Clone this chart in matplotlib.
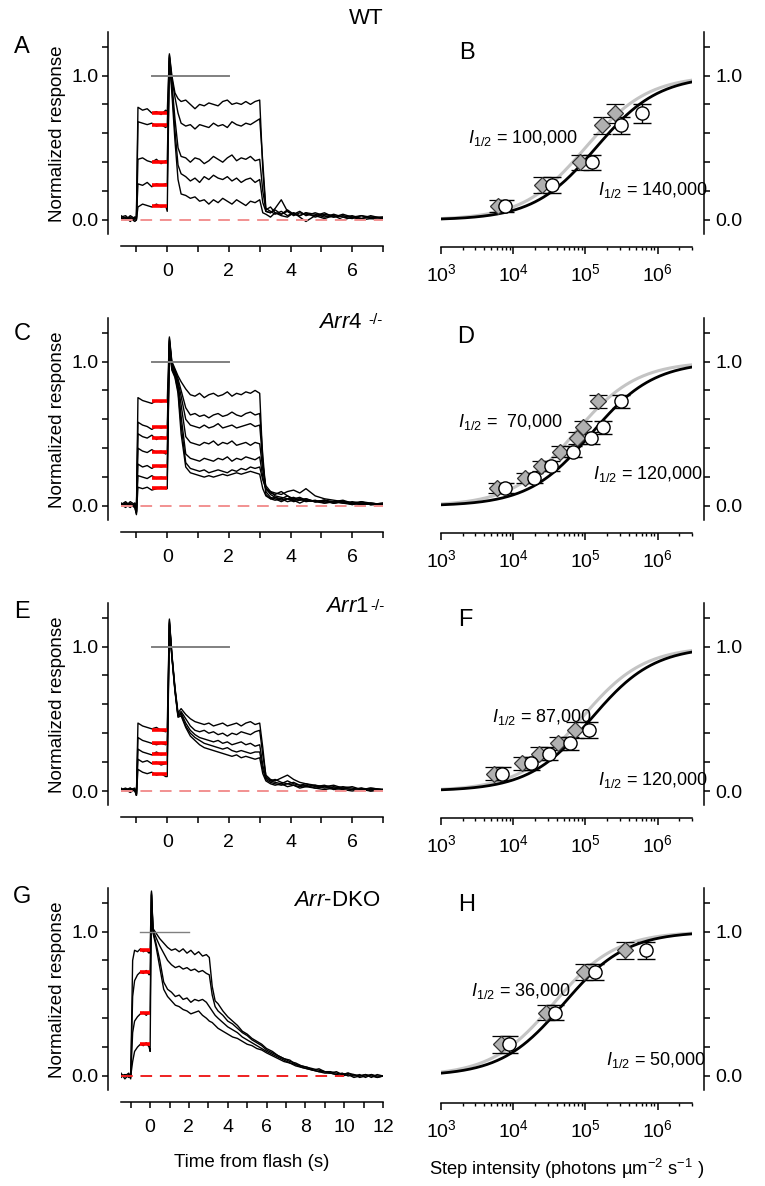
import numpy as np
import matplotlib
matplotlib.use("Agg")
import matplotlib.pyplot as plt
from matplotlib.ticker import FixedLocator, FixedFormatter, LogLocator, NullFormatter

plt.rcParams['font.family'] = ['Liberation Sans', 'DejaVu Sans']
plt.rcParams['mathtext.fontset'] = 'custom'
plt.rcParams['mathtext.rm'] = 'Liberation Sans'
plt.rcParams['mathtext.it'] = 'Liberation Sans:italic'
plt.rcParams['mathtext.bf'] = 'Liberation Sans:bold'

# ---------------- step/flash traces (normalized response vs time, s) ----------------
# shared time grid for the WT, Arr4-/- and Arr1-/- panels
t_step = [-1.5, -1.35, -1.2, -1.05, -1.0, -0.95, -0.8, -0.65, -0.5, -0.35, -0.2, -0.05,
          0.0, 0.07, 0.15, 0.25, 0.35, 0.45, 0.6, 0.75, 0.9, 1.05, 1.2, 1.35, 1.5, 1.65,
          1.8, 1.95, 2.1, 2.25, 2.4, 2.55, 2.7, 2.85, 3.0, 3.1, 3.2, 3.35, 3.5, 3.7, 3.9,
          4.1, 4.3, 4.5, 4.8, 5.1, 5.4, 5.7, 6.0, 6.3, 6.6, 7.0]

wt_traces = [
    [0.02, 0.03, 0.0, 0.02, 0.02, 0.78, 0.76, 0.77, 0.74, 0.75, 0.73, 0.76, 0.74, 1.15, 1.0,
     0.88, 0.84, 0.82, 0.83, 0.80, 0.77, 0.80, 0.79, 0.81, 0.80, 0.79, 0.82, 0.83, 0.80, 0.81,
     0.80, 0.82, 0.80, 0.82, 0.83, 0.35, 0.06, 0.05, 0.07, 0.04, 0.06, 0.03, 0.05, 0.04, 0.03,
     0.05, 0.02, 0.03, 0.02, 0.03, 0.01, 0.02],
    [0.01, 0.0, 0.03, 0.01, 0.01, 0.68, 0.67, 0.66, 0.67, 0.65, 0.66, 0.64, 0.65, 1.14, 0.98,
     0.85, 0.74, 0.67, 0.65, 0.66, 0.63, 0.66, 0.65, 0.64, 0.67, 0.65, 0.66, 0.64, 0.68, 0.66,
     0.65, 0.67, 0.66, 0.68, 0.70, 0.40, 0.08, 0.06, 0.04, 0.06, 0.03, 0.05, 0.03, 0.05, 0.02,
     0.04, 0.03, 0.02, 0.03, 0.01, 0.02, 0.01],
    [0.03, 0.01, 0.02, 0.0, 0.0, 0.42, 0.43, 0.41, 0.40, 0.42, 0.39, 0.41, 0.40, 1.13, 0.95,
     0.70, 0.50, 0.44, 0.43, 0.40, 0.43, 0.42, 0.39, 0.41, 0.44, 0.42, 0.40, 0.43, 0.45, 0.41,
     0.43, 0.42, 0.44, 0.41, 0.42, 0.20, 0.07, 0.09, 0.05, 0.04, 0.07, 0.04, 0.03, 0.05, 0.04,
     0.02, 0.04, 0.02, 0.01, 0.03, 0.02, 0.02],
    [0.0, 0.02, -0.01, 0.02, 0.01, 0.25, 0.24, 0.26, 0.23, 0.25, 0.24, 0.25, 0.24, 1.12, 0.92,
     0.62, 0.38, 0.32, 0.30, 0.27, 0.29, 0.26, 0.30, 0.28, 0.31, 0.29, 0.28, 0.30, 0.27, 0.29,
     0.26, 0.28, 0.29, 0.26, 0.28, 0.12, 0.06, 0.05, 0.08, 0.14, 0.06, 0.04, 0.06, 0.03, 0.05,
     0.03, 0.02, 0.04, 0.02, 0.01, 0.03, 0.01],
    [0.02, 0.0, 0.01, -0.01, 0.0, 0.09, 0.11, 0.10, 0.09, 0.11, 0.09, 0.10, 0.06, 1.10, 0.88,
     0.55, 0.28, 0.18, 0.17, 0.15, 0.16, 0.13, 0.14, 0.11, 0.14, 0.12, 0.15, 0.13, 0.11, 0.14,
     0.12, 0.10, 0.13, 0.12, 0.14, 0.05, 0.04, 0.02, 0.05, 0.03, 0.02, 0.05, 0.02, -0.01, 0.03,
     0.01, 0.03, 0.0, 0.02, 0.0, 0.01, 0.0],
]
wt_levels = [0.738, 0.655, 0.398, 0.245, 0.095]

arr4_traces = [
    [0.01, 0.03, 0.0, 0.02, -0.04, 0.75, 0.73, 0.72, 0.71, 0.73, 0.72, 0.73, 0.72, 1.17, 1.00,
     0.95, 0.90, 0.86, 0.81, 0.77, 0.76, 0.78, 0.75, 0.77, 0.78, 0.76, 0.77, 0.79, 0.76, 0.78,
     0.77, 0.79, 0.78, 0.80, 0.78, 0.30, 0.08, 0.05, 0.04, 0.05, 0.03, 0.04, 0.05, 0.03, 0.04,
     0.02, 0.03, 0.04, 0.02, 0.01, 0.02, 0.01],
    [0.0, 0.02, 0.01, -0.01, -0.05, 0.58, 0.56, 0.55, 0.53, 0.55, 0.54, 0.55, 0.54, 1.16, 0.99,
     0.94, 0.88, 0.80, 0.68, 0.63, 0.64, 0.62, 0.63, 0.61, 0.63, 0.64, 0.62, 0.63, 0.65, 0.63,
     0.62, 0.64, 0.65, 0.63, 0.64, 0.35, 0.10, 0.06, 0.05, 0.03, 0.05, 0.04, 0.02, 0.04, 0.03,
     0.03, 0.02, 0.03, 0.01, 0.03, 0.02, 0.01],
    [0.02, 0.0, 0.03, 0.01, -0.03, 0.50, 0.48, 0.47, 0.49, 0.46, 0.48, 0.47, 0.47, 1.15, 0.98,
     0.93, 0.86, 0.76, 0.60, 0.56, 0.55, 0.54, 0.56, 0.54, 0.55, 0.57, 0.54, 0.55, 0.56, 0.54,
     0.55, 0.56, 0.57, 0.55, 0.56, 0.30, 0.12, 0.08, 0.06, 0.05, 0.07, 0.04, 0.05, 0.04, 0.03,
     0.04, 0.02, 0.03, 0.02, 0.02, 0.01, 0.02],
    [0.0, 0.01, -0.01, 0.02, -0.04, 0.40, 0.38, 0.37, 0.39, 0.37, 0.38, 0.36, 0.37, 1.14, 0.97,
     0.92, 0.84, 0.70, 0.48, 0.44, 0.43, 0.42, 0.44, 0.43, 0.45, 0.42, 0.44, 0.43, 0.45, 0.42,
     0.43, 0.44, 0.42, 0.44, 0.43, 0.25, 0.14, 0.10, 0.07, 0.06, 0.05, 0.06, 0.04, 0.05, 0.03,
     0.04, 0.02, 0.03, 0.02, 0.01, 0.02, 0.01],
    [0.01, -0.01, 0.02, 0.0, -0.05, 0.29, 0.27, 0.28, 0.26, 0.28, 0.27, 0.28, 0.27, 1.13, 0.96,
     0.91, 0.82, 0.62, 0.36, 0.33, 0.32, 0.31, 0.33, 0.32, 0.31, 0.33, 0.32, 0.34, 0.31, 0.33,
     0.32, 0.34, 0.33, 0.32, 0.34, 0.20, 0.12, 0.09, 0.08, 0.10, 0.07, 0.05, 0.06, 0.04, 0.03,
     0.04, 0.03, 0.02, 0.03, 0.02, 0.01, 0.01],
    [0.0, 0.02, 0.0, 0.01, -0.04, 0.21, 0.20, 0.19, 0.21, 0.19, 0.20, 0.19, 0.19, 1.12, 0.95,
     0.90, 0.80, 0.56, 0.30, 0.26, 0.25, 0.24, 0.25, 0.23, 0.24, 0.25, 0.24, 0.23, 0.25, 0.24,
     0.26, 0.25, 0.27, 0.26, 0.27, 0.18, 0.12, 0.10, 0.09, 0.08, 0.10, 0.11, 0.09, 0.12, 0.07,
     0.05, 0.04, 0.03, 0.02, 0.03, 0.01, 0.02],
    [0.02, 0.0, 0.01, -0.01, -0.06, 0.13, 0.12, 0.13, 0.11, 0.12, 0.13, 0.12, 0.12, 1.11, 0.94,
     0.89, 0.78, 0.50, 0.27, 0.23, 0.22, 0.21, 0.20, 0.21, 0.20, 0.21, 0.22, 0.21, 0.22, 0.23,
     0.22, 0.23, 0.24, 0.23, 0.22, 0.12, 0.07, 0.05, 0.06, 0.04, 0.05, 0.03, 0.04, 0.05, 0.03,
     0.02, 0.03, 0.02, 0.01, 0.02, 0.01, 0.01],
]
arr4_levels = [0.724, 0.544, 0.472, 0.376, 0.274, 0.196, 0.122]

arr1_traces = [
    [0.01, 0.02, 0.0, 0.01, -0.03, 0.47, 0.45, 0.44, 0.43, 0.44, 0.42, 0.41, 0.43, 1.19, 0.95,
     0.72, 0.54, 0.57, 0.53, 0.50, 0.48, 0.47, 0.46, 0.47, 0.45, 0.46, 0.47, 0.45, 0.46, 0.47,
     0.45, 0.47, 0.48, 0.46, 0.47, 0.30, 0.10, 0.07, 0.08, 0.06, 0.05, 0.06, 0.04, 0.05, 0.03,
     0.04, 0.02, 0.03, 0.02, 0.01, 0.02, 0.01],
    [0.0, 0.01, 0.02, 0.0, -0.02, 0.37, 0.35, 0.34, 0.33, 0.32, 0.33, 0.32, 0.33, 1.18, 0.94,
     0.71, 0.53, 0.55, 0.50, 0.45, 0.42, 0.41, 0.42, 0.40, 0.41, 0.39, 0.40, 0.38, 0.40, 0.39,
     0.41, 0.40, 0.39, 0.41, 0.42, 0.25, 0.11, 0.08, 0.07, 0.09, 0.11, 0.08, 0.06, 0.05, 0.04,
     0.03, 0.04, 0.02, 0.03, 0.01, 0.02, 0.01],
    [0.02, 0.0, 0.01, 0.02, -0.03, 0.29, 0.27, 0.26, 0.25, 0.27, 0.25, 0.26, 0.25, 1.17, 0.94,
     0.70, 0.52, 0.54, 0.47, 0.42, 0.39, 0.37, 0.36, 0.35, 0.34, 0.35, 0.33, 0.34, 0.32, 0.33,
     0.34, 0.32, 0.33, 0.31, 0.32, 0.18, 0.09, 0.07, 0.06, 0.05, 0.07, 0.05, 0.04, 0.03, 0.04,
     0.02, 0.03, 0.02, 0.01, 0.02, 0.01, 0.01],
    [0.0, 0.01, -0.01, 0.01, -0.02, 0.22, 0.20, 0.21, 0.19, 0.20, 0.18, 0.19, 0.19, 1.16, 0.93,
     0.70, 0.52, 0.53, 0.45, 0.40, 0.37, 0.35, 0.33, 0.32, 0.31, 0.30, 0.29, 0.30, 0.28, 0.27,
     0.28, 0.27, 0.26, 0.27, 0.27, 0.15, 0.08, 0.06, 0.05, 0.04, 0.05, 0.04, 0.03, 0.04, 0.02,
     0.03, 0.01, 0.02, 0.01, 0.02, 0.0, 0.01],
    [0.01, 0.0, 0.02, 0.0, -0.03, 0.15, 0.13, 0.12, 0.13, 0.11, 0.12, 0.10, 0.10, 1.15, 0.93,
     0.69, 0.51, 0.52, 0.44, 0.38, 0.35, 0.32, 0.30, 0.29, 0.28, 0.27, 0.26, 0.25, 0.24, 0.25,
     0.23, 0.24, 0.23, 0.22, 0.23, 0.12, 0.07, 0.05, 0.04, 0.05, 0.03, 0.04, 0.02, 0.03, 0.02,
     0.01, 0.02, 0.01, 0.0, 0.01, 0.0, 0.01],
]
arr1_levels = [0.421, 0.329, 0.257, 0.193, 0.120]

# time grid for the Arr-DKO panel (longer recovery)
t_dko = [-1.5, -1.3, -1.1, -1.0, -0.9, -0.8, -0.65, -0.5, -0.35, -0.2, -0.05, 0.0, 0.07, 0.15,
         0.3, 0.5, 0.7, 0.9, 1.1, 1.3, 1.5, 1.7, 1.9, 2.1, 2.3, 2.5, 2.7, 2.9, 3.05, 3.2, 3.35,
         3.5, 3.75, 4.0, 4.25, 4.5, 4.75, 5.0, 5.25, 5.5, 5.75, 6.0, 6.3, 6.6, 6.9, 7.2, 7.5,
         7.8, 8.1, 8.4, 8.7, 9.0, 9.3, 9.6, 9.9, 10.2, 10.5, 10.8, 11.1, 11.4, 11.7, 12.0]

dko_traces = [
    [0.02, -0.02, 0.01, -0.02, 0.80, 0.87, 0.86, 0.88, 0.86, 0.87, 0.85, 0.87, 1.28, 1.02,
     0.99, 0.95, 0.92, 0.89, 0.87, 0.88, 0.86, 0.88, 0.85, 0.87, 0.84, 0.86, 0.83, 0.84, 0.82,
     0.62, 0.52, 0.50, 0.45, 0.41, 0.38, 0.35, 0.31, 0.29, 0.26, 0.24, 0.22, 0.19, 0.17, 0.14,
     0.12, 0.11, 0.08, 0.07, 0.06, 0.04, 0.05, 0.03, 0.02, 0.03, 0.01, 0.02, 0.0, 0.01, -0.01,
     0.01, 0.0, 0.0],
    [0.0, 0.01, -0.01, 0.0, 0.55, 0.66, 0.70, 0.72, 0.71, 0.73, 0.70, 0.72, 1.27, 1.01, 0.96,
     0.90, 0.85, 0.80, 0.77, 0.75, 0.76, 0.74, 0.75, 0.73, 0.74, 0.72, 0.73, 0.71, 0.70, 0.56,
     0.48, 0.45, 0.42, 0.38, 0.36, 0.33, 0.30, 0.28, 0.25, 0.23, 0.21, 0.18, 0.16, 0.14, 0.12,
     0.10, 0.09, 0.07, 0.06, 0.05, 0.04, 0.03, 0.03, 0.02, 0.01, 0.02, 0.01, 0.0, 0.01, -0.01,
     0.01, 0.0],
    [0.01, 0.0, 0.02, -0.01, 0.30, 0.38, 0.41, 0.43, 0.44, 0.42, 0.44, 0.43, 1.26, 1.0, 0.92,
     0.80, 0.65, 0.60, 0.58, 0.55, 0.56, 0.53, 0.54, 0.51, 0.53, 0.52, 0.53, 0.51, 0.48, 0.45,
     0.42, 0.40, 0.37, 0.34, 0.32, 0.30, 0.27, 0.25, 0.23, 0.21, 0.19, 0.17, 0.15, 0.13, 0.11,
     0.09, 0.08, 0.06, 0.05, 0.04, 0.03, 0.03, 0.02, 0.01, 0.02, 0.0, 0.01, -0.01, 0.0, 0.01,
     -0.01, 0.0],
    [-0.01, 0.01, 0.0, 0.0, 0.10, 0.17, 0.20, 0.22, 0.21, 0.23, 0.20, 0.17, 1.25, 0.99, 0.90,
     0.75, 0.60, 0.55, 0.52, 0.49, 0.48, 0.46, 0.45, 0.43, 0.44, 0.45, 0.42, 0.40, 0.38, 0.37,
     0.35, 0.33, 0.31, 0.29, 0.27, 0.26, 0.24, 0.22, 0.21, 0.19, 0.18, 0.16, 0.14, 0.12, 0.10,
     0.09, 0.07, 0.06, 0.05, 0.04, 0.03, 0.02, 0.02, 0.01, 0.0, 0.01, -0.01, 0.0, 0.01, 0.0,
     -0.01, 0.0],
]
dko_levels = [0.869, 0.719, 0.438, 0.219]

# ---------------- intensity-response data (photons um^-2 s^-1) ----------------
wt_dia_i = [6100, 25400, 84000, 169000, 259000]
wt_cir_i = [7800, 34300, 122000, 308000, 617000]
wt_resp = [0.095, 0.245, 0.398, 0.655, 0.738]
wt_err = [0.04, 0.055, 0.053, 0.058, 0.065]
wt_half = (100000, 140000)

arr4_dia_i = [6000, 14400, 24600, 44400, 76600, 92700, 149000]
arr4_cir_i = [7800, 19200, 33900, 66500, 121000, 173000, 315000]
arr4_resp = [0.122, 0.196, 0.274, 0.376, 0.472, 0.544, 0.724]
arr4_err = [0.035, 0.035, 0.035, 0.04, 0.04, 0.045, 0.045]
arr4_half = (70000, 120000)

arr1_dia_i = [5400, 13200, 22800, 42400, 72400]
arr1_cir_i = [7100, 17700, 31800, 61700, 112000]
arr1_resp = [0.120, 0.193, 0.257, 0.329, 0.421]
arr1_err = [0.045, 0.045, 0.045, 0.045, 0.055]
arr1_half = (87000, 120000)

dko_dia_i = [6800, 28200, 94900, 350000]
dko_cir_i = [8700, 37800, 134000, 687000]
dko_resp = [0.219, 0.438, 0.719, 0.869]
dko_err = [0.057, 0.053, 0.053, 0.058]
dko_half = (36000, 50000)

# ---------------- figure layout (pixel based) ----------------
W, H = 765, 1186
fig = plt.figure(figsize=(W / 100, H / 100), dpi=100)


def px_axes(x0, y0, x1, y1):
    return fig.add_axes([x0 / W, 1 - y1 / H, (x1 - x0) / W, (y1 - y0) / H])


def fig_text(x, y, s, **kw):
    return fig.text(x / W, 1 - y / H, s, **kw)


zero_px = [220, 506, 791, 1076]
unit_px = 144.5
FS = 14


def trace_panel(ax, t, traces, levels, xmax, xticks, dash_end, dash_color, gray_lw):
    for y in traces:
        ax.plot(t, y, color='black', lw=1.0)
    for lv in levels:
        ax.plot([-0.5, 0.0], [lv, lv], color='red', lw=2.6, solid_capstyle='butt')
    ax.plot([-0.5, 2.0], [1.0, 1.0], color='#808080', lw=gray_lw)
    ax.plot([-1.5, dash_end], [0, 0], color=dash_color, lw=1.4, dashes=(6, 4))
    ax.set_xlim(-1.5, xmax)
    ax.set_ylim(-0.1, 1.3)
    for s in ('top', 'right'):
        ax.spines[s].set_visible(False)
    ax.spines['left'].set_position(('outward', 9.4))
    ax.spines['bottom'].set_position(('outward', 8.3))
    for s in ('left', 'bottom'):
        ax.spines[s].set_linewidth(1.1)
    ax.yaxis.set_major_locator(FixedLocator([0, 0.2, 0.4, 0.6, 0.8, 1.0, 1.2]))
    ax.yaxis.set_major_formatter(FixedFormatter(['0.0', '', '', '', '', '1.0', '']))
    ax.xaxis.set_major_locator(FixedLocator(xticks))
    ax.xaxis.set_major_formatter(FixedFormatter([str(v) if v % 2 == 0 else '' for v in xticks]))
    ax.tick_params(axis='y', direction='out', length=4.5, width=1.1, labelsize=FS, pad=2.5)
    ax.tick_params(axis='x', direction='out', length=4.5, width=1.1, labelsize=FS, pad=8)
    ax.set_ylabel('Normalized response', fontsize=13.5, labelpad=4)


def hill_panel(ax, dia_i, cir_i, resp, err, halves, labels):
    inten = np.logspace(3, np.log10(3e6), 300)
    ax.plot(inten, inten / (inten + halves[0]), color='#c4c4c4', lw=2.2)
    ax.plot(inten, inten / (inten + halves[1]), color='black', lw=2.0)
    ax.errorbar(dia_i, resp, yerr=err, fmt='D', ms=8.5, mfc='#b0b0b0', mec='#333333',
                mew=0.9, ecolor='black', elinewidth=1.0, capsize=6.5, capthick=1.0)
    ax.errorbar(cir_i, resp, yerr=err, fmt='o', ms=9.5, mfc='white', mec='black',
                mew=1.0, ecolor='black', elinewidth=1.0, capsize=6.5, capthick=1.0)
    for (x, y, txt) in labels:
        ax.text(x, y, r'$\mathit{I}_{\mathrm{1/2}}$' + txt, fontsize=13,
                ha='left', va='center')
    ax.set_xscale('log')
    ax.set_xlim(1e3, 3e6)
    ax.set_ylim(-0.1, 1.3)
    for s in ('top', 'left'):
        ax.spines[s].set_visible(False)
    ax.spines['right'].set_position(('outward', 8.6))
    ax.spines['bottom'].set_position(('outward', 8.8))
    for s in ('right', 'bottom'):
        ax.spines[s].set_linewidth(1.1)
    ax.yaxis.tick_right()
    ax.yaxis.set_major_locator(FixedLocator([0, 0.2, 0.4, 0.6, 0.8, 1.0, 1.2]))
    ax.yaxis.set_major_formatter(FixedFormatter(['0.0', '', '', '', '', '1.0', '']))
    ax.xaxis.set_major_locator(FixedLocator([1e3, 1e4, 1e5, 1e6]))
    ax.xaxis.set_major_formatter(FixedFormatter([r'$10^3$', r'$10^4$', r'$10^5$', r'$10^6$']))
    ax.xaxis.set_minor_locator(LogLocator(base=10, subs=np.arange(2, 10), numticks=20))
    ax.xaxis.set_minor_formatter(NullFormatter())
    ax.tick_params(axis='y', direction='out', length=4.5, width=1.1, labelsize=FS, pad=4)
    ax.tick_params(axis='x', which='major', direction='out', length=5, width=1.1,
                   labelsize=FS, pad=7)
    ax.tick_params(axis='x', which='minor', direction='out', length=2.5, width=1.0)


left_sets = [
    (t_step, wt_traces, wt_levels, 7, list(range(-1, 8)), 7, '#f29090', 1.4),
    (t_step, arr4_traces, arr4_levels, 7, list(range(-1, 8)), 7, '#f29090', 1.4),
    (t_step, arr1_traces, arr1_levels, 7, list(range(-1, 8)), 7, '#f29090', 1.4),
    (t_dko, dko_traces, dko_levels, 12, list(range(-1, 13)), 10, '#ee2020', 1.0),
]
right_sets = [
    (wt_dia_i, wt_cir_i, wt_resp, wt_err, wt_half,
     [(2400, 0.57, ' = 100,000'), (150000, 0.21, ' = 140,000')]),
    (arr4_dia_i, arr4_cir_i, arr4_resp, arr4_err, arr4_half,
     [(1700, 0.58, ' =  70,000'), (128000, 0.224, ' = 120,000')]),
    (arr1_dia_i, arr1_cir_i, arr1_resp, arr1_err, arr1_half,
     [(5100, 0.51, ' = 87,000'), (150000, 0.074, ' = 120,000')]),
    (dko_dia_i, dko_cir_i, dko_resp, dko_err, dko_half,
     [(2600, 0.59, ' = 36,000'), (195000, 0.108, ' = 50,000')]),
]

for row in range(4):
    z = zero_px[row]
    top, bot = z - 1.3 * unit_px, z + 0.1 * unit_px
    axl = px_axes(121, top, 383, bot)
    trace_panel(axl, *left_sets[row])
    axr = px_axes(441, top, 692, bot)
    hill_panel(axr, *right_sets[row])
    if row == 3:
        axl.set_xlabel('Time from flash (s)', fontsize=13.5, labelpad=13)
        axr.set_xlabel('Step intensity (photons \u00b5m$^{-2}$ s$^{-1}$ )', fontsize=13.2,
                       labelpad=11)

# panel letters and genotype labels
for (x, y, s) in [(22, 47, 'A'), (22, 334, 'C'), (22, 612, 'E'), (22, 897, 'G'),
                  (467, 53, 'B'), (466, 337, 'D'), (465, 620, 'F'), (467, 905, 'H')]:
    fig_text(x, y, s, fontsize=17, ha='center', va='center')

fig_text(384, 18, 'WT', fontsize=16, ha='right', va='center')


def genotype(x, y, base, sup, gap):
    main = fig_text(x, y, base, fontsize=16, ha='left', va='center')
    fig.canvas.draw()
    bb = main.get_window_extent()
    fig.text((bb.x1 + gap) / W, (bb.y1 - 2) / H, sup, fontsize=11, ha='left', va='top')


genotype(318, 322, r'$\mathit{Arr4}$', '-/-', 6)
genotype(325, 607, r'$\mathit{Arr1}$', '-/-', 1)
fig_text(293, 900, r'$\mathit{Arr}$-DKO', fontsize=16, ha='left', va='center')

fig.savefig('out.png', dpi=100)
